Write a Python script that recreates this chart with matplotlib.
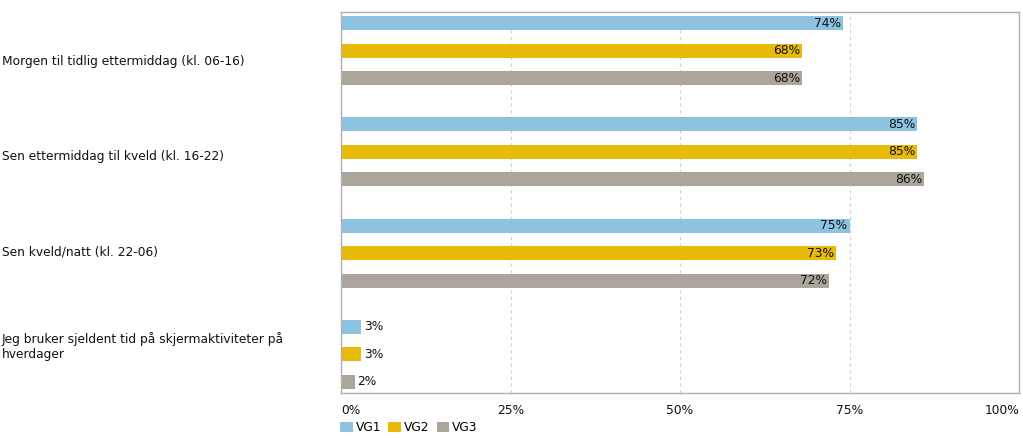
import matplotlib.pyplot as plt
import numpy as np

categories = ['Morgen til tidlig ettermiddag (kl. 06-16)',
              'Sen ettermiddag til kveld (kl. 16-22)',
              'Sen kveld/natt (kl. 22-06)',
              'Jeg bruker sjeldent tid på skjermaktiviteter på\nhverdager']
series = ['VG1', 'VG2', 'VG3']
vg1 = [74, 85, 75, 3]
vg2 = [68, 85, 73, 3]
vg3 = [68, 86, 72, 2]
colors = ['#8DC3E1', '#E8BB0A', '#ABA59C']
ticks = [0, 25, 50, 75, 100]

fs = 8.8
txt = '#111111'

fig = plt.figure(figsize=(10.23, 4.38), dpi=100)
ax = fig.add_axes([341/1023, 1-393/438, 678/1023, 381/438])

step = 0.272
height = 0.139
y = np.arange(len(categories))
for i, (vals, col) in enumerate(zip([vg1, vg2, vg3], colors)):
    pos = y + (i - 1) * step
    ax.barh(pos, vals, height=height, color=col, label=series[i], zorder=2)
    for p, v in zip(pos, vals):
        if v > 10:
            ax.text(v - 0.3, p, f'{v}%', ha='right', va='center',
                    fontsize=fs, color=txt, zorder=3)
        else:
            ax.text(v + 0.4, p, f'{v}%', ha='left', va='center',
                    fontsize=fs, color=txt, zorder=3)

ax.set_xlim(0, 100)
ax.set_ylim(3.382, -0.382)
ax.set_xticks(ticks)
ax.set_xticklabels([f'{t}%' for t in ticks], fontsize=fs, color=txt)
labs = ax.get_xticklabels()
labs[0].set_ha('left')
labs[-1].set_ha('right')
ax.tick_params(axis='x', length=0, pad=8)
ax.set_yticks([])
ax.grid(axis='x', color='#d0d0d0', linestyle=(0, (3, 3)), linewidth=0.8, zorder=0)
for s in ax.spines.values():
    s.set_color('#b0b0b0')
    s.set_linewidth(1)

# category labels centred in equal bands
for k, c in enumerate(categories):
    ax.text(2/1023, 1 - 394.5/438 + (1 - (k + 0.5) / 4) * 381/438, c,
            transform=fig.transFigure, ha='left', va='center',
            fontsize=fs, color=txt)

fig.legend(loc='lower left', bbox_to_anchor=(333/1023, -0.008), ncol=3,
           frameon=False, fontsize=fs, handlelength=1.0, handleheight=1.0,
           handletextpad=0.25, columnspacing=0.6, borderaxespad=0.2)

fig.savefig('out.png', dpi=100)
